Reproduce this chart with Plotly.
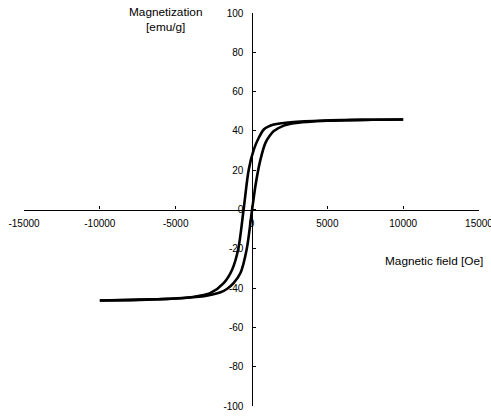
import plotly.graph_objects as go

# Hysteresis loop: descending-field branch (upper) and ascending-field branch (lower)
field_down = [10000, 8000, 6000, 4760, 3500, 2570, 2000, 1470, 1100, 810, 480, 150,
              -180, -520, -880, -1270, -1820, -2700, -3500, -4240, -5500, -6440, -8000, -10000]
mag_down = [45.8, 45.7, 45.5, 45.3, 44.9, 44.4, 43.9, 43.2, 42.2, 40.7, 36.5, 30.5,
            20.4, 0.0, -20.4, -30.5, -37.3, -42.4, -44.0, -44.9, -45.5, -45.8, -46.1, -46.3]

field_up = [-10000, -8000, -6500, -5340, -4200, -3140, -2040, -1600, -1170, -720, -320, 40,
            300, 590, 920, 1200, 1470, 2130, 2800, 3670, 5000, 6500, 8000, 10000]
mag_up = [-46.3, -46.0, -45.7, -45.4, -44.8, -44.1, -42.1, -40.3, -37.3, -32.2, -20.4, 0.0,
          14.0, 25.4, 33.9, 37.5, 39.9, 42.7, 43.9, 44.6, 45.2, 45.5, 45.7, 45.8]

x_ticks = [-15000, -10000, -5000, 0, 5000, 10000, 15000]
x_tick_text = ["-15000", "-10000", "-5000", "0", "5000", "10000", "15000"]
y_ticks = [-100, -80, -60, -40, -20, 0, 20, 40, 60, 80, 100]
y_tick_text = ["-100", "-80", "-60", "-40", "-20", "0", "20", "40", "60", "80", "100"]

FONT = "Liberation Sans, Arial, sans-serif"

fig = go.Figure()
for xs, ys in ((field_down, mag_down), (field_up, mag_up)):
    fig.add_trace(go.Scatter(
        x=xs, y=ys, mode="lines",
        line=dict(color="black", width=2.6, shape="spline", smoothing=0.9),
        showlegend=False, hoverinfo="skip",
    ))

fig.update_layout(
    width=491, height=416,
    margin=dict(l=24, r=12, t=13, b=10, autoexpand=False),
    paper_bgcolor="white", plot_bgcolor="white",
    font=dict(family=FONT, size=10, color="black"),
    xaxis=dict(
        range=[-15000, 15000], tickvals=x_ticks, ticktext=x_tick_text,
        showgrid=False, zeroline=False, automargin=False,
        showline=True, linecolor="black", linewidth=1.2,
        ticks="inside", ticklen=3, tickcolor="black", tickwidth=1,
        anchor="free", position=0.5,
        tickfont=dict(family=FONT, size=10, color="black"),
        ticklabelstandoff=4, ticklabeloverflow="allow",
    ),
    yaxis=dict(
        range=[-100, 100], tickvals=y_ticks, ticktext=y_tick_text,
        showgrid=False, zeroline=False, automargin=False,
        showline=True, linecolor="black", linewidth=1.2,
        ticks="inside", ticklen=3, tickcolor="black", tickwidth=1,
        anchor="free", position=0.5,
        tickfont=dict(family=FONT, size=10, color="black"),
        ticklabelstandoff=6, ticklabeloverflow="allow",
    ),
    annotations=[
        dict(text="Magnetization<br>[emu/g]", xref="paper", yref="paper",
             x=(165 - 24) / 455, y=1 - (19 - 13) / 393, showarrow=False,
             font=dict(family=FONT, size=11.8, color="black"), align="center",
             xanchor="center", yanchor="middle"),
        dict(text="Magnetic field [Oe]", xref="paper", yref="paper",
             x=(434 - 24) / 455, y=1 - (261 - 13) / 393, showarrow=False,
             font=dict(family=FONT, size=11.8, color="black"),
             xanchor="center", yanchor="middle"),
    ],
)

fig.write_html("out.html")
